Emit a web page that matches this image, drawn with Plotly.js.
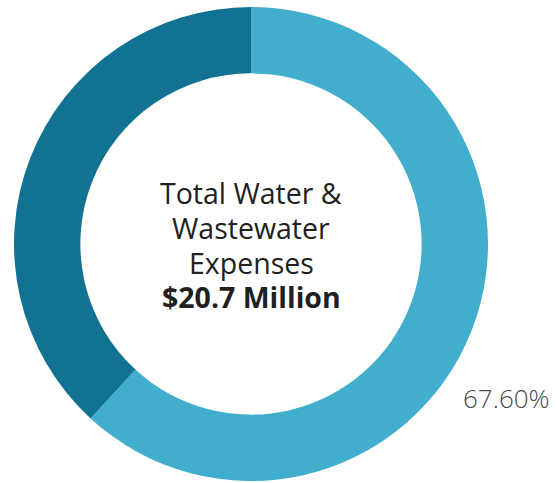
<!DOCTYPE html>
<html>
<head>
<meta charset="utf-8">
<script src="https://cdn.plot.ly/plotly-3.0.1.min.js"></script>
<style>html,body{margin:0;padding:0;background:#fff;}#chart{width:556px;height:483px;}</style>
</head>
<body>
<div id="chart"></div>
<script>
const categories = ['Share A', 'Share B'];
const values = [12.8, 7.9];
const sliceColors = ['#40AECC', '#117391'];
const labelText = '67.60%';
const centerLines = ['Total Water &', 'Wastewater', 'Expenses', '<b>$20.7 Million</b>'];

const trace = {
  type: 'pie',
  labels: categories,
  values: values,
  hole: 0.72,
  sort: false,
  direction: 'clockwise',
  rotation: 0,
  textinfo: 'none',
  hoverinfo: 'none',
  marker: {colors: sliceColors, line: {width: 0}},
  showlegend: false
};

const lineStep = 0.0732;
const firstY = 0.607;
const annotations = centerLines.map((t, i) => ({
  xref: 'paper', yref: 'paper', x: 0.5, y: firstY - i * lineStep,
  xanchor: 'center', yanchor: 'middle',
  text: t, showarrow: false, align: 'center',
  font: {family: 'Open Sans, sans-serif', size: 28.5, color: '#231f20'}
}));
annotations.push({
  xref: 'paper', yref: 'paper', x: 0.944, y: 0.175,
  xanchor: 'left', yanchor: 'middle',
  text: labelText, showarrow: false,
  font: {family: 'Open Sans, sans-serif', size: 26, color: '#4a4a4a', weight: 300}
});

const layout = {
  width: 556,
  height: 483,
  margin: {l: 14, r: 68, t: 7, b: 2, pad: 0},
  paper_bgcolor: '#ffffff',
  plot_bgcolor: '#ffffff',
  showlegend: false,
  annotations: annotations
};

Plotly.newPlot('chart', [trace], layout, {displayModeBar: false, staticPlot: true});
</script>
</body>
</html>
